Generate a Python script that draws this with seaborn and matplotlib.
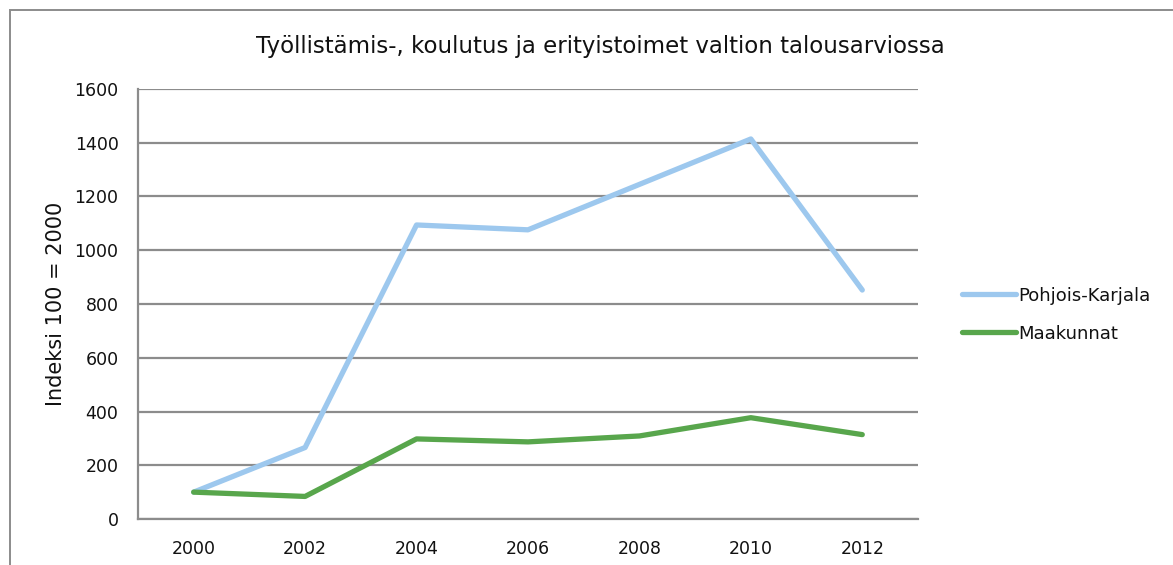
import numpy as np
import pandas as pd
import matplotlib
matplotlib.use("Agg")
import matplotlib.pyplot as plt
import seaborn as sns
from matplotlib.patches import Rectangle

years = [2000, 2002, 2004, 2006, 2008, 2010, 2012]
pohjois_karjala = [100, 266, 1094, 1076, 1245, 1414, 852]
maakunnat = [100, 84, 298, 287, 309, 377, 314]
series_names = ["Pohjois-Karjala", "Maakunnat"]
colors = ["#9DC8EE", "#58A64C"]

df = pd.DataFrame({
    "Vuosi": years * 2,
    "Indeksi": pohjois_karjala + maakunnat,
    "Sarja": [series_names[0]] * len(years) + [series_names[1]] * len(years),
})

sns.set_theme(style="white")
plt.rcParams['font.family'] = ['DejaVu Sans']
plt.rcParams['text.color'] = '#111111'
plt.rcParams['xtick.color'] = '#111111'
plt.rcParams['ytick.color'] = '#111111'
plt.rcParams['axes.labelcolor'] = '#111111'

fig = plt.figure(figsize=(11.73, 5.65), dpi=100)
ax = fig.add_axes([0.1176, 0.0814, 0.665, 0.7611])

sns.lineplot(data=df, x="Vuosi", y="Indeksi", hue="Sarja",
             palette=dict(zip(series_names, colors)), linewidth=3.8,
             ax=ax, legend=False)

ax.set_xlim(1999, 2013)
ax.set_ylim(0, 1600)
ax.set_xticks(years)
ax.set_yticks(np.arange(0, 1601, 200))
ax.tick_params(axis='both', labelsize=12.5, length=0)
ax.tick_params(axis='y', pad=14)
ax.tick_params(axis='x', pad=15)
ax.yaxis.grid(True, color='#8c8c8c', linewidth=1.6)
ax.set_axisbelow(True)
for s in ['top', 'right']:
    ax.spines[s].set_visible(False)
for s in ['left', 'bottom']:
    ax.spines[s].set_color('#8c8c8c')
    ax.spines[s].set_linewidth(1.6)
ax.set_xlabel('')
ax.set_ylabel('Indeksi 100 = 2000', fontsize=15, labelpad=6)

fig.text(0.512, 0.918, 'Työllistämis-, koulutus ja erityistoimet valtion talousarviossa',
         ha='center', va='center', fontsize=16.5)

# legend on the right
handles = [plt.Line2D([], [], color=c, linewidth=3.8) for c in colors]
fig.legend(handles, series_names, loc='center left', bbox_to_anchor=(0.806, 0.443),
           frameon=False, fontsize=13, handlelength=3.0, handletextpad=0.15,
           labelspacing=1.1)

# outer chart border
fig.patches.append(Rectangle((0.0085, -0.1), 1.2, 1.082, transform=fig.transFigure,
                             fill=False, edgecolor='#8c8c8c', linewidth=1.4))

plt.savefig("out.png", dpi=100)
